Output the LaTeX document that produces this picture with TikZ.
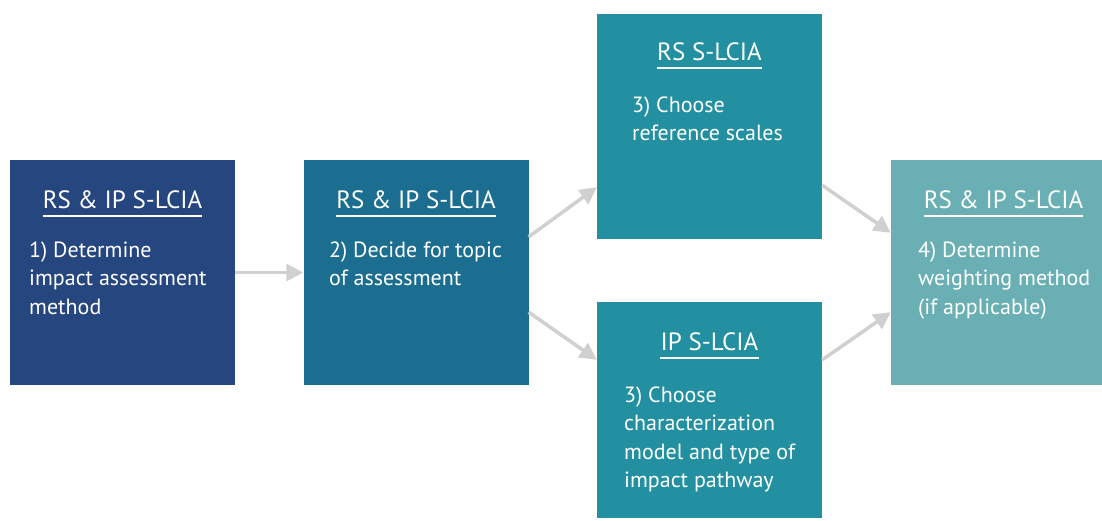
\documentclass[tikz,border=0pt]{standalone}
\usepackage{fontspec}
\setmainfont{PT Sans}
\usetikzlibrary{arrows.meta}
\definecolor{cA}{HTML}{26467F}
\definecolor{cB}{HTML}{1C6E91}
\definecolor{cC}{HTML}{2290A0}
\definecolor{cD}{HTML}{69AFB3}
\definecolor{cArr}{HTML}{D0D0D0}
\tikzset{
  box/.style={draw=none, inner sep=0pt, minimum width=225pt, minimum height=225pt},
  ttl/.style={anchor=base, inner sep=0pt, text=white, font=\fontsize{25}{30}\selectfont},
  body/.style={anchor=base west, inner sep=0pt, text=white, font=\fontsize{22}{28.5}\selectfont},
  uline/.style={draw=white, line width=2pt},
  arr/.style={draw=cArr, line width=3.5pt, -{Triangle[length=17pt,width=17pt]}, shorten <=0pt}
}
\newcommand{\lines}[1]{\begin{tabular}[t]{@{}l@{}}#1\end{tabular}}
\begin{document}
\begin{tikzpicture}[x=1pt,y=-1pt]
\useasboundingbox (0,0) rectangle (1102,520);
\clip (0,0) rectangle (1102,520);
% boxes
\node[box, fill=cA] (b1) at (122.5,272.5) {};
\node[box, fill=cB] (b2) at (416,272.5) {};
\node[box, fill=cC] (b3) at (709.5,126.5) {};
\node[box, fill=cC, minimum height=216pt] (b3b) at (709.5,410) {};
\node[box, fill=cD] (b4) at (1003.5,272.5) {};
% titles
\node[ttl] (t1) at (122.5,208) {RS \& IP S-LCIA};
\node[ttl] (t2) at (416,208) {RS \& IP S-LCIA};
\node[ttl] (t3) at (709.5,60) {RS S-LCIA};
\node[ttl] (t3b) at (709.5,350) {IP S-LCIA};
\node[ttl] (t4) at (1003.5,208) {RS \& IP S-LCIA};
\foreach \t in {t1,t2,t3,t3b,t4}{
  \draw[uline] ([yshift=-7.5pt]\t.base west) -- ([yshift=-7.5pt]\t.base east);
}
% bodies
\node[body] (d1) at (29,257) {\lines{1) Determine\\impact assessment\\method}};
\node[body] (d2) at (329,257) {\lines{2) Decide for topic\\of assessment}};
\node[body] (d3) at (632,112) {\lines{3) Choose\\reference scales}};
\node[body] (d3b) at (624,402) {\lines{3) Choose\\characterization\\model and type of\\impact pathway}};
\node[body] (d4) at (918,257) {\lines{4) Determine\\weighting method\\(if applicable)}};
% arrows
\draw[arr] (b1.east) -- (b2.west);
\draw[arr] ([yshift=-77pt]b2.north east) -- ([yshift=52pt]b3.south west);
\draw[arr] ([yshift=73pt]b2.south east) -- ([yshift=-58pt]b3b.north west);
\draw[arr] ([yshift=54pt]b3.south east) -- ([yshift=-73pt]b4.north west);
\draw[arr] ([yshift=-58pt]b3b.north east) -- ([yshift=73pt]b4.south west);
\end{tikzpicture}
\end{document}
